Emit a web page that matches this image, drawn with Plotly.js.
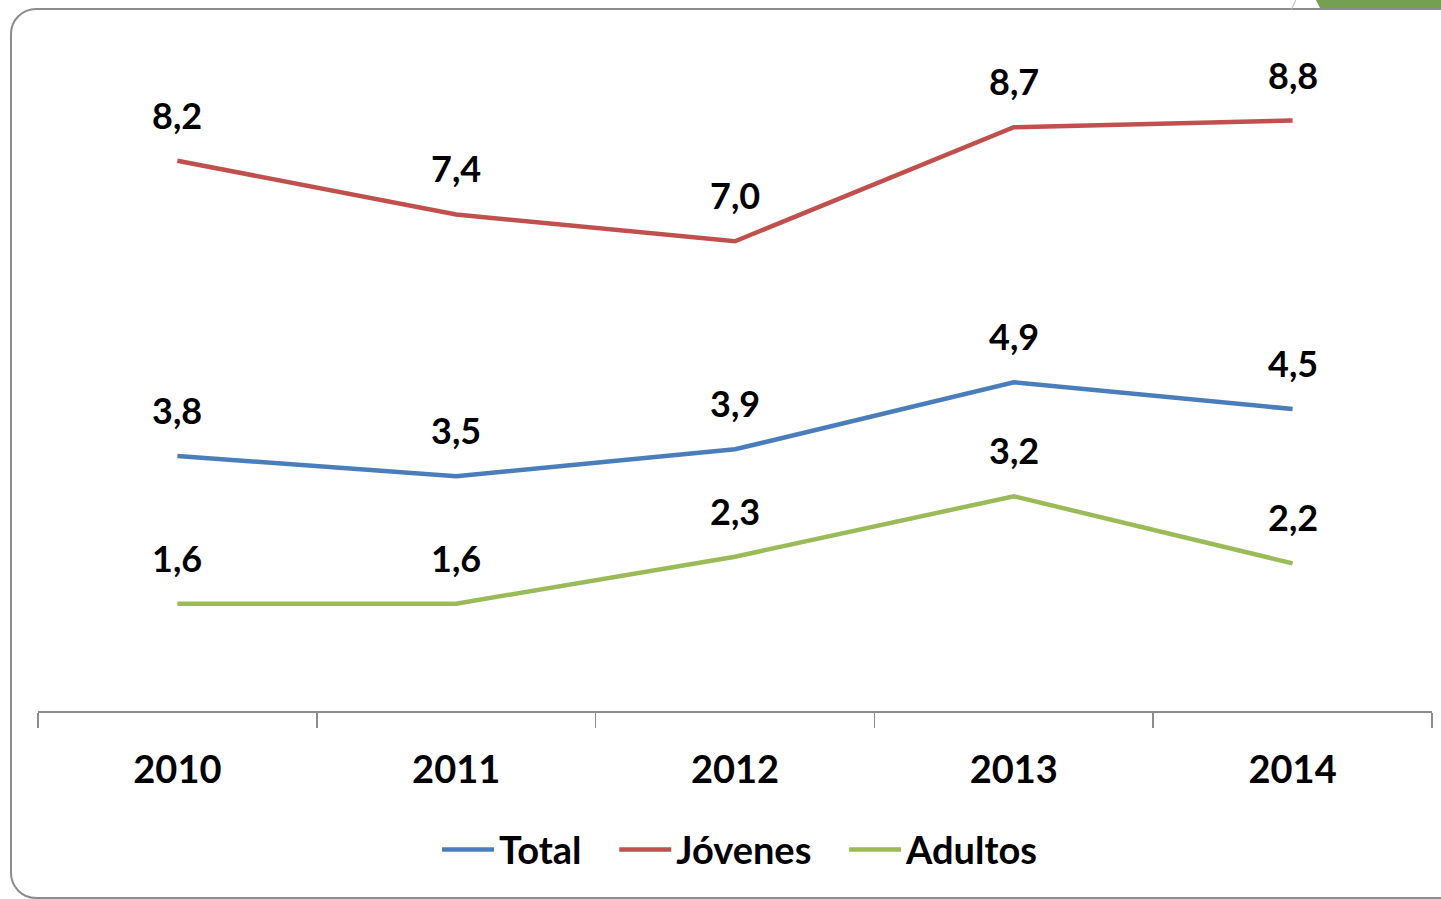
<!DOCTYPE html>
<html>
<head>
<meta charset="utf-8">
<script src="https://cdn.plot.ly/plotly-3.0.1.min.js"></script>
<style>
  html, body { margin:0; padding:0; background:#ffffff; overflow:hidden; }
  #wrap { position:relative; width:1441px; height:899px; overflow:hidden; background:#fff; }
  #chart { position:absolute; left:0; top:0; width:1441px; height:899px; }
  #frame { position:absolute; left:10px; top:8px; width:1500px; height:887px;
           border:2.5px solid #8c8c8c; border-radius:26px; pointer-events:none; }
  #green { position:absolute; left:1316px; top:0; width:125px; height:8px; background:#74a052;
           clip-path: polygon(0 0, 100% 0, 100% 100%, 4px 100%); }
  #slash { position:absolute; left:1293px; top:0; width:1px; height:10px; background:#b5b5b5;
           transform: skewX(-25deg); }
</style>
</head>
<body>
<div id="wrap">
  <div id="chart"></div>
  <div id="frame"></div>
  <div id="slash"></div>
  <div id="green"></div>
</div>
<script>
// ---- data ----
const years = ['2010', '2011', '2012', '2013', '2014'];
const total = [3.8, 3.5, 3.9, 4.9, 4.5];
const jovenes = [8.2, 7.4, 7.0, 8.7, 8.8];
const adultos = [1.6, 1.6, 2.3, 3.2, 2.2];
const seriesNames = ['Total', 'Jóvenes', 'Adultos'];
const seriesColors = ['#4a7ebb', '#c0504d', '#9bbb59'];

const seriesData = [total, jovenes, adultos];
const FONT = 'Lato, "Open Sans", sans-serif';
const PAD = '\u00a0\u00a0\u00a0';

const traces = seriesData.map((vals, i) => ({
  type: 'scatter',
  mode: 'lines',
  name: i < seriesData.length - 1 ? seriesNames[i] + PAD : seriesNames[i],
  x: years,
  y: vals,
  line: { color: seriesColors[i], width: 4.5 },
  hoverinfo: 'skip'
}));

const fmt = v => v.toFixed(1).replace('.', ',');
const annotations = [];
seriesData.forEach(vals => {
  vals.forEach((v, j) => {
    annotations.push({
      x: j, y: v, xref: 'x', yref: 'y',
      text: fmt(v), showarrow: false,
      xanchor: 'center', yanchor: 'middle', yshift: 46,
      font: { family: FONT, size: 36, color: '#000', weight: 700 }
    });
  });
});

const layout = {
  width: 1441, height: 899,
  margin: { l: 38, r: 9, t: 40, b: 188 },
  paper_bgcolor: 'rgba(0,0,0,0)',
  plot_bgcolor: 'rgba(0,0,0,0)',
  separators: ',.',
  showlegend: true,
  legend: {
    orientation: 'h',
    x: 0.5036, xanchor: 'center',
    y: -0.207, yanchor: 'middle',
    font: { family: FONT, size: 38, color: '#000', weight: 700 },
    itemwidth: 52,
    tracegroupgap: 0
  },
  xaxis: {
    type: 'category',
    range: [-0.5, 4.5],
    showgrid: false,
    zeroline: false,
    showline: true,
    linecolor: '#8c8c8c',
    linewidth: 1.5,
    ticks: 'outside',
    tickson: 'boundaries',
    ticklen: 15,
    tickwidth: 1.5,
    tickcolor: '#8c8c8c',
    ticklabelstandoff: 25,
    tickfont: { family: FONT, size: 38, color: '#000', weight: 700 },
    fixedrange: true
  },
  yaxis: {
    range: [0, 10],
    visible: false,
    showgrid: false,
    zeroline: false,
    fixedrange: true
  },
  annotations: annotations
};

Plotly.newPlot('chart', traces, layout, { displayModeBar: false, staticPlot: true });
</script>
</body>
</html>
